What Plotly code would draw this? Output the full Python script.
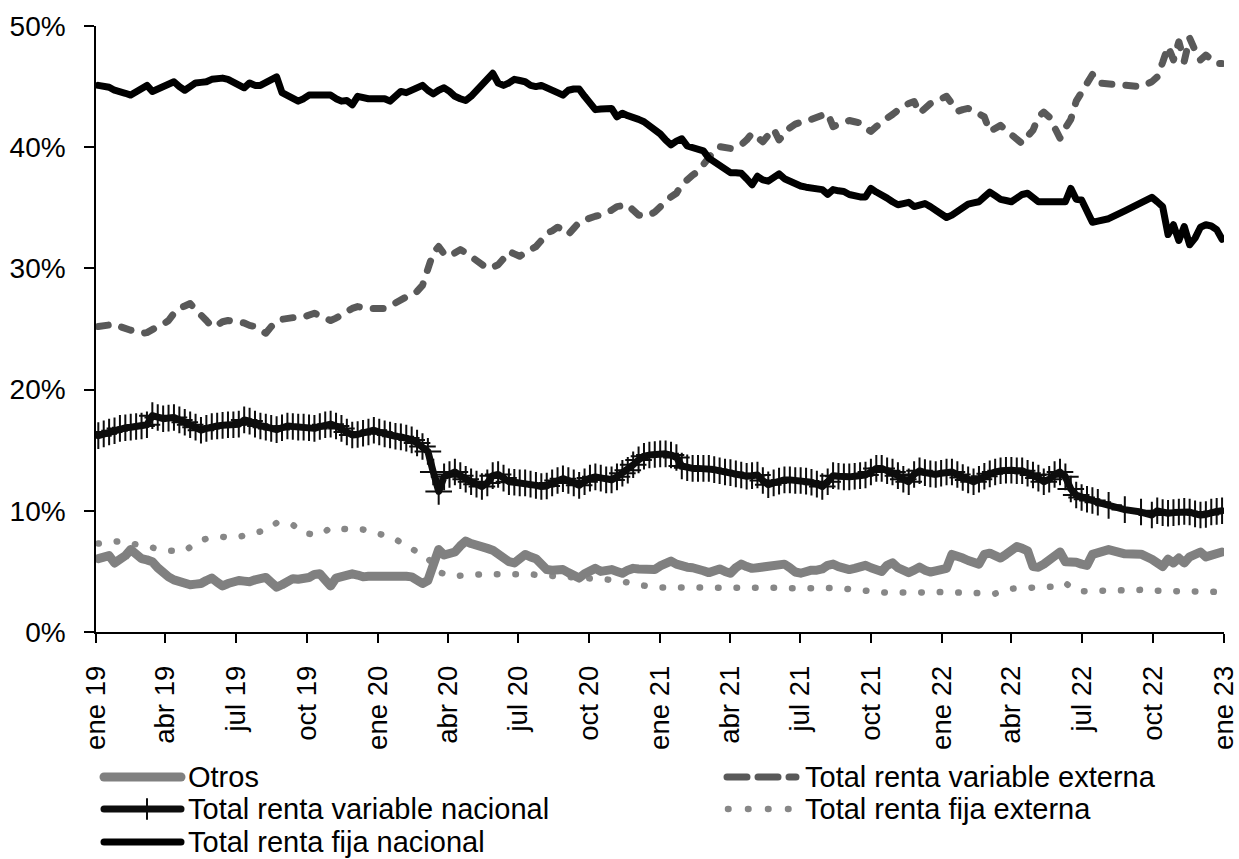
import pandas as pd
import plotly.graph_objects as go

# Weekly observations; between late July and end of September 2022 the series is sparser.
fechas = (
    list(pd.date_range("2019-01-04", periods=186, freq="7D"))
    + list(pd.to_datetime(["2022-08-05", "2022-08-26", "2022-09-16"]))
    + list(pd.date_range("2022-09-30", periods=14, freq="7D"))
)

# Portfolio shares, in percent
otros = [
    6.05, 6.2, 6.3, 5.7, 5.9, 6.3, 6.8, 6.4, 6.05, 5.95,
    5.8, 5.3, 4.85, 4.55, 4.3, 4.15, 3.95, 3.9, 3.95, 4.0,
    4.25, 4.45, 4.1, 3.8, 4.0, 4.2, 4.25, 4.2, 4.15, 4.3,
    4.45, 4.5, 4.1, 3.7, 3.9, 4.2, 4.4, 4.35, 4.35, 4.5,
    4.75, 4.8, 4.3, 3.8, 4.45, 4.6, 4.7, 4.8, 4.7, 4.55,
    4.6, 4.6, 4.6, 4.6, 4.7, 4.75, 4.7, 4.6, 4.55, 4.3,
    4.0, 4.25, 5.4, 6.8, 6.35, 6.5, 6.6, 7.1, 7.5, 7.3,
    7.1, 7.0, 6.9, 6.75, 6.4, 6.1, 5.8, 5.7, 6.1, 6.4,
    6.2, 6.05, 5.6, 5.15, 5.1, 5.15, 5.15, 4.9, 4.65, 4.45,
    4.8, 5.1, 5.25, 5.0, 5.05, 5.15, 5.0, 4.85, 5.1, 5.25,
    5.2, 5.2, 5.15, 5.15, 5.45, 5.7, 5.85, 5.6, 5.4, 5.35,
    5.3, 5.25, 5.05, 4.9, 5.15, 5.2, 5.0, 4.85, 5.3, 5.6,
    5.4, 5.25, 5.3, 5.35, 5.4, 5.5, 5.65, 5.6, 5.3, 4.95,
    4.85, 5.0, 5.1, 5.1, 5.2, 5.5, 5.6, 5.4, 5.25, 5.15,
    5.25, 5.4, 5.5, 5.3, 5.1, 5.0, 5.5, 5.7, 5.3, 5.1,
    4.9, 5.1, 5.35, 5.1, 4.95, 5.05, 5.15, 5.25, 6.4, 6.3,
    6.1, 5.9, 5.7, 5.6, 6.4, 6.5, 6.3, 6.1, 6.4, 6.8,
    7.05, 6.9, 6.7, 5.4, 5.35, 5.6, 5.9, 6.4, 6.6, 5.8,
    5.8, 5.75, 5.6, 5.5, 6.4, 6.6,
    6.8, 6.45, 6.42,
    6.0, 5.8, 5.4, 6.0, 5.7, 6.1, 5.7, 6.2, 6.4, 6.6, 6.2, 6.3, 6.35, 6.6,
]

rv_externa = [
    25.2, 25.3, 25.4, 25.4, 25.2, 25.0, 24.9, 24.8, 24.65, 24.7,
    25.0, 25.2, 25.4, 25.7, 26.3, 26.7, 26.9, 27.1, 26.6, 26.2,
    25.7, 25.2, 25.3, 25.6, 25.7, 25.65, 25.6, 25.5, 25.3, 25.2,
    24.9, 24.65, 25.2, 25.6, 25.8, 25.9, 26.0, 26.0, 26.0, 26.2,
    26.3, 26.1, 25.9, 25.7, 25.9, 26.2, 26.4, 26.7, 26.85, 26.75,
    26.7, 26.7, 26.7, 26.7, 26.9, 27.2, 27.45, 27.65, 27.8, 28.1,
    28.6, 29.9, 31.3, 31.8, 31.2, 31.0, 31.3, 31.55, 31.3, 31.0,
    30.6, 30.3, 30.0, 30.1, 30.3, 30.8, 31.4, 31.2, 31.0, 31.3,
    31.6, 31.8, 32.3, 32.9, 33.1, 33.4, 33.2, 32.8, 33.3, 33.8,
    34.0, 34.2, 34.3, 34.4, 34.55, 34.8, 35.1, 35.2, 35.25, 34.8,
    34.4, 34.3, 34.4, 34.65, 35.0, 35.5, 35.9, 36.2, 36.9, 37.4,
    37.7, 38.0, 38.6, 39.3, 39.7, 40.05, 40.0, 39.9, 40.0, 40.2,
    40.6, 41.15, 40.8, 40.45, 41.0, 41.5, 40.6, 41.2, 41.6, 41.9,
    42.1, 42.2, 42.3, 42.5, 42.7, 42.8, 41.7, 41.9, 42.1, 42.2,
    42.1, 42.0, 41.6, 41.3, 41.7, 42.1, 42.4, 42.7, 43.1, 43.4,
    43.6, 43.77, 42.8, 43.2, 43.6, 43.8, 44.0, 44.2, 43.6, 42.95,
    43.1, 43.2, 43.0, 42.8, 42.5, 41.3, 41.6, 41.8, 41.4, 41.0,
    40.6, 40.3, 40.9, 41.4, 42.5, 42.9, 42.5, 41.6, 40.75, 41.6,
    42.3, 43.8, 44.5, 45.3, 46.0, 45.3,
    45.25, 45.15, 45.0,
    45.4, 45.8, 47.0, 48.3, 47.2, 48.7, 47.1, 49.0, 48.0, 47.2, 47.6, 47.2, 46.9, 46.9,
]

rv_nacional = [
    16.2, 16.35, 16.5, 16.6, 16.8, 16.85, 16.9, 16.95, 17.0, 17.1,
    17.85, 17.7, 17.6, 17.65, 17.7, 17.5, 17.3, 17.1, 16.9, 16.65,
    16.8, 16.95, 17.0, 17.05, 17.1, 17.1, 17.15, 17.5, 17.4, 17.15,
    17.0, 16.9, 16.8, 16.7, 16.85, 17.0, 16.95, 16.9, 16.9, 16.85,
    16.8, 16.95, 17.1, 17.15, 17.0, 16.8, 16.5, 16.25, 16.3, 16.4,
    16.5, 16.65, 16.5, 16.35, 16.25, 16.15, 16.1, 16.0, 15.85, 15.6,
    15.3, 14.9, 13.2, 11.6, 12.8, 13.0, 13.2, 12.9, 12.6, 12.4,
    12.2, 12.0, 12.3, 12.9, 13.0, 12.7, 12.4, 12.35, 12.3, 12.3,
    12.2, 12.1, 12.0, 12.05, 12.3, 12.5, 12.65, 12.5, 12.3, 12.1,
    12.4, 12.7, 12.8, 12.7, 12.55, 12.55, 12.8, 13.1, 13.35, 13.8,
    14.2, 14.5, 14.6, 14.65, 14.7, 14.7, 14.6, 14.4, 13.7, 13.55,
    13.5, 13.5, 13.5, 13.5, 13.4, 13.3, 13.2, 13.15, 13.05, 12.95,
    12.85, 12.9, 12.95, 12.5, 12.15, 12.3, 12.45, 12.55, 12.55, 12.5,
    12.5, 12.45, 12.35, 12.2, 12.0, 12.4, 12.9, 12.85, 12.8, 12.8,
    12.85, 12.9, 12.95, 13.2, 13.5, 13.5, 13.3, 13.2, 12.9, 12.6,
    12.4, 13.0, 13.3, 13.15, 13.05, 13.0, 13.1, 13.2, 13.2, 13.0,
    12.75, 12.55, 12.4, 12.6, 12.85, 13.05, 13.2, 13.3, 13.35, 13.35,
    13.3, 13.3, 13.1, 12.95, 12.7, 12.4, 12.6, 13.0, 13.2, 12.8,
    11.8, 11.3, 11.1, 10.95, 10.85, 10.7,
    10.45, 10.1, 9.9,
    9.65, 10.0, 9.85, 9.8, 9.85, 9.9, 9.95, 9.9, 9.75, 9.65, 9.7, 9.9, 9.95, 10.0,
]

rf_externa = [
    7.3, 7.35, 7.45, 7.55, 7.5, 7.4, 7.3, 7.2, 7.1, 7.05,
    7.0, 6.85, 6.75, 6.7, 6.7, 6.7, 6.7, 7.0, 7.35, 7.55,
    7.7, 7.8, 7.85, 7.85, 7.8, 7.8, 7.85, 7.95, 8.05, 8.15,
    8.3, 8.4, 8.7, 9.0, 9.05, 8.95, 8.85, 8.5, 8.15, 8.1,
    8.05, 8.05, 8.3, 8.6, 8.55, 8.5, 8.45, 8.4, 8.42, 8.45,
    8.35, 8.25, 8.18, 8.0, 7.85, 7.65, 7.4, 7.15, 6.9, 6.6,
    6.35, 6.1, 5.5, 4.95, 4.8, 4.7, 4.6, 4.65, 4.7, 4.75,
    4.76, 4.76, 4.76, 4.76, 4.8, 4.85, 4.87, 4.85, 4.8, 4.78,
    4.76, 4.72, 4.7, 4.65, 4.62, 4.6, 4.57, 4.55, 4.52, 4.5,
    4.48, 4.46, 4.44, 4.42, 4.38, 4.3, 4.25, 4.2, 4.1, 4.0,
    3.88, 3.8, 3.72, 3.68, 3.67, 3.67, 3.67, 3.67, 3.69, 3.7,
    3.72, 3.74, 3.76, 3.77, 3.77, 3.77, 3.77, 3.77, 3.77, 3.77,
    3.77, 3.77, 3.77, 3.77, 3.77, 3.72, 3.65, 3.6, 3.58, 3.58,
    3.58, 3.58, 3.6, 3.63, 3.66, 3.67, 3.65, 3.62, 3.58, 3.53,
    3.49, 3.46, 3.44, 3.35, 3.27, 3.22, 3.24, 3.27, 3.3, 3.28,
    3.26, 3.24, 3.22, 3.25, 3.28, 3.3, 3.29, 3.27, 3.26, 3.25,
    3.27, 3.29, 3.3, 3.26, 3.22, 3.18, 3.17, 3.3, 3.45, 3.57,
    3.6, 3.63, 3.67, 3.67, 3.67, 3.67, 3.67, 3.75, 3.9, 4.05,
    3.7, 3.45, 3.36, 3.37, 3.38, 3.39,
    3.42, 3.48, 3.56,
    3.5, 3.4, 3.39, 3.39, 3.39, 3.39, 3.39, 3.39, 3.39, 3.38, 3.36, 3.33, 3.3, 3.3,
]

rf_nacional = [
    45.1, 45.0, 44.95, 44.7, 44.5, 44.45, 44.3, 44.6, 44.9, 45.1,
    44.6, 44.8, 45.0, 45.3, 45.4, 45.0, 44.7, 45.0, 45.3, 45.35,
    45.4, 45.6, 45.7, 45.7, 45.6, 45.4, 45.1, 44.9, 45.3, 45.1,
    45.1, 45.3, 45.5, 45.8, 44.5, 44.3, 44.0, 43.8, 44.0, 44.3,
    44.3, 44.3, 44.3, 44.3, 44.0, 43.8, 43.85, 43.5, 44.2, 44.05,
    44.0, 44.0, 44.05, 44.0, 43.8, 44.2, 44.6, 44.5, 44.7, 44.9,
    45.1, 44.7, 44.4, 44.7, 44.9, 44.6, 44.2, 44.0, 43.85, 44.2,
    44.7, 45.3, 45.8, 46.1, 45.3, 45.1, 45.3, 45.6, 45.5, 45.4,
    45.1, 45.0, 45.1, 44.95, 44.75, 44.5, 44.3, 44.7, 44.8, 44.8,
    44.2, 43.6, 43.1, 43.15, 43.2, 43.2, 42.5, 42.8, 42.6, 42.5,
    42.3, 42.1, 41.8, 41.5, 41.1, 40.6, 40.2, 40.5, 40.7, 40.1,
    40.0, 39.9, 39.7, 39.1, 38.8, 38.4, 38.1, 37.9, 37.9, 37.85,
    37.4, 36.9, 37.6, 37.3, 37.2, 37.5, 37.8, 37.4, 37.2, 36.9,
    36.8, 36.7, 36.6, 36.6, 36.5, 36.1, 36.5, 36.4, 36.35, 36.1,
    35.95, 35.9, 35.9, 36.6, 36.3, 36.1, 35.8, 35.5, 35.25, 35.35,
    35.45, 35.1, 35.2, 35.35, 35.1, 34.85, 34.5, 34.2, 34.4, 34.7,
    35.0, 35.3, 35.4, 35.5, 35.9, 36.3, 36.0, 35.7, 35.6, 35.5,
    35.8, 36.1, 36.2, 35.9, 35.5, 35.5, 35.5, 35.5, 35.4, 35.5,
    36.6, 35.7, 35.65, 34.6, 33.8, 33.9,
    34.1, 34.75, 35.4,
    35.87, 35.5, 35.1, 32.8, 33.6, 32.3, 33.45, 31.95, 32.5, 33.4, 33.6, 33.5, 33.2, 32.4,
]

# Quarterly axis labels
tick_fechas = list(pd.date_range("2019-01-01", "2023-01-01", freq="QS"))
tick_textos = [
    "ene 19", "abr 19", "jul 19", "oct 19",
    "ene 20", "abr 20", "jul 20", "oct 20",
    "ene 21", "abr 21", "jul 21", "oct 21",
    "ene 22", "abr 22", "jul 22", "oct 22",
    "ene 23",
]
y_ticks = [0, 10, 20, 30, 40, 50]
y_textos = ["0%", "10%", "20%", "30%", "40%", "50%"]

FUENTE = "Liberation Sans"
W, H = 1239, 859
M_L, M_R, M_T, M_B = 96, 15, 26, 227

# Series styling
estilos = {
    "Otros": dict(color="#808080", width=9, dash="solid"),
    "Total renta variable externa": dict(color="#595959", width=7, dash="10px,14px"),
    "Total renta variable nacional": dict(color="#0d0d0d", width=7, dash="solid"),
    "Total renta fija externa": dict(color="#878787", width=6.5, dash="0.5px,18px"),
    "Total renta fija nacional": dict(color="#000000", width=7, dash="solid"),
}

fig = go.Figure()

fig.add_trace(go.Scatter(
    x=fechas, y=rf_externa, name="Total renta fija externa", mode="lines",
    line=estilos["Total renta fija externa"],
))
fig.add_trace(go.Scatter(
    x=fechas, y=otros, name="Otros", mode="lines",
    line=estilos["Otros"],
))
fig.add_trace(go.Scatter(
    x=fechas, y=rv_externa, name="Total renta variable externa", mode="lines",
    line=estilos["Total renta variable externa"],
))
fig.add_trace(go.Scatter(
    x=fechas, y=rv_nacional, name="Total renta variable nacional", mode="lines+markers",
    line=estilos["Total renta variable nacional"],
    marker=dict(symbol="cross-thin", size=19, color="#0d0d0d",
                line=dict(width=2, color="#0d0d0d")),
))
fig.add_trace(go.Scatter(
    x=fechas, y=rf_nacional, name="Total renta fija nacional", mode="lines",
    line=estilos["Total renta fija nacional"],
))
fig.update_traces(showlegend=False)

# Legend below the axis, two columns
plot_w = W - M_L - M_R
plot_h = H - M_T - M_B


def px_x(px):
    return (px - M_L) / plot_w


def px_y(py):
    return (H - M_B - py) / plot_h


leyenda = [
    # name, symbol start, symbol end, text start, row centre, legend dash
    ("Otros", 104, 181, 186, 777, "solid"),
    ("Total renta variable nacional", 104, 181, 186, 809, "solid"),
    ("Total renta fija nacional", 104, 181, 186, 842, "solid"),
    ("Total renta variable externa", 727, 796, 803, 777, "20px,11px"),
    ("Total renta fija externa", 728, 790, 803, 809, "0.5px,19.5px"),
]

for nombre, x0, x1, xt, yc, dash in leyenda:
    est = estilos[nombre]
    fig.add_shape(
        type="line", xref="paper", yref="paper",
        x0=px_x(x0), x1=px_x(x1), y0=px_y(yc), y1=px_y(yc),
        line=dict(color=est["color"], width=est["width"], dash=dash),
    )
    if nombre == "Total renta variable nacional":
        fig.add_shape(
            type="line", xref="paper", yref="paper",
            x0=px_x(147), x1=px_x(147), y0=px_y(yc - 10), y1=px_y(yc + 10),
            line=dict(color=est["color"], width=2),
        )
    fig.add_annotation(
        text=nombre, xref="paper", yref="paper",
        x=px_x(xt), y=px_y(yc), xanchor="left", yanchor="middle",
        showarrow=False, font=dict(family=FUENTE, size=29, color="black"),
    )

fig.update_layout(
    width=W, height=H,
    margin=dict(l=M_L, r=M_R, t=M_T, b=M_B, autoexpand=False),
    paper_bgcolor="white", plot_bgcolor="white",
    font=dict(family=FUENTE, size=28, color="black"),
    showlegend=False,
    xaxis=dict(
        type="date", range=["2019-01-01", "2023-01-01 12:00"],
        tickmode="array", tickvals=tick_fechas, ticktext=tick_textos,
        tickangle=-90, ticks="outside", ticklen=9, tickwidth=1.5, tickcolor="black",
        showline=True, linecolor="black", linewidth=1.5, automargin=False,
        showgrid=False, zeroline=False, ticklabelstandoff=12,
        tickfont=dict(family=FUENTE, size=27.5, color="black"),
    ),
    yaxis=dict(
        range=[0, 50], tickmode="array", tickvals=y_ticks, ticktext=y_textos,
        ticks="outside", ticklen=10, tickwidth=1.5, tickcolor="black",
        showline=True, linecolor="black", linewidth=1.5, automargin=False,
        showgrid=False, zeroline=False, ticklabelstandoff=13,
        tickfont=dict(family=FUENTE, size=28, color="black"),
    ),
)

# Rounded line ends for the dashed and dotted strokes
estilo_css = (".scatterlayer .js-line, .shapelayer path "
              "{stroke-linecap: round !important; stroke-linejoin: round !important;}")
post = ("var s=document.createElement('style');s.textContent='" + estilo_css +
        "';document.head.appendChild(s);")

fig.write_html("out.html", post_script=post)
